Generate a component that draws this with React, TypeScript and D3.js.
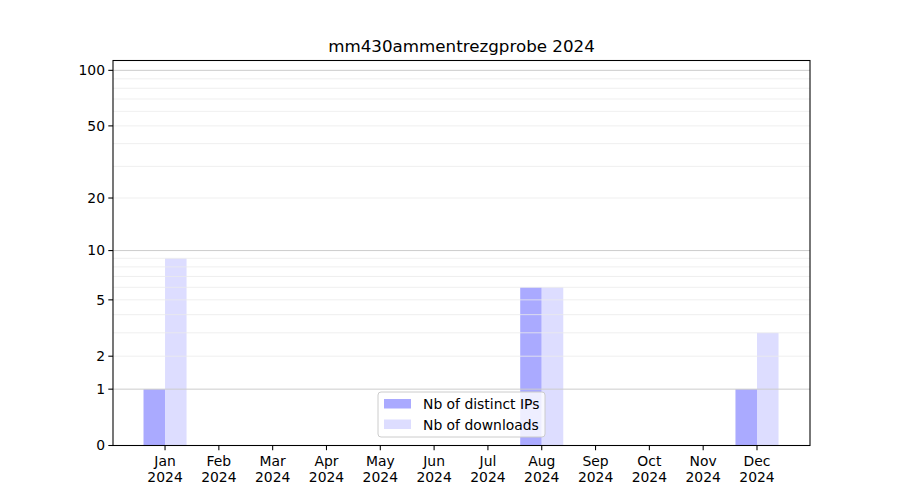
import * as d3 from 'd3';
import React from 'react';

const months = ['Jan', 'Feb', 'Mar', 'Apr', 'May', 'Jun', 'Jul', 'Aug', 'Sep', 'Oct', 'Nov', 'Dec'];
const year = '2024';
const distinctIps = [1, 0, 0, 0, 0, 0, 0, 6, 0, 0, 0, 1];
const downloads = [9, 0, 0, 0, 0, 0, 0, 6, 0, 0, 0, 3];
const yTicks = [0, 1, 2, 5, 10, 20, 50, 100];
const majorGrid = [1, 10, 100];
const minorGrid = [2, 3, 4, 5, 6, 7, 8, 9, 20, 30, 40, 50, 60, 70, 80, 90];

const W = 900;
const H = 500;
const left = 113;
const right = 810;
const top = 60.5;
const bottom = 445.5;
const font = 'DejaVu Sans, sans-serif';
const fs = 13.9;

export default function App() {
  const x = d3.scaleLinear().domain([-0.967, 11.985]).range([left, right]);
  const y = d3.scaleSymlog().constant(1).domain([0, 113]).range([bottom, top]);
  const bw = x(0.4) - x(0);

  return (
    <svg width={W} height={H} style={{ position: 'absolute', left: 0, top: 0 }} fontFamily={font}>
      <rect width={W} height={H} fill="#fff" />
      {distinctIps.map((v, i) =>
        v > 0 ? (
          <rect key={'a' + i} x={x(i) - bw} y={y(v)} width={bw} height={bottom - y(v)} fill="#aaaaff" />
        ) : null,
      )}
      {downloads.map((v, i) =>
        v > 0 ? (
          <rect key={'b' + i} x={x(i)} y={y(v)} width={bw} height={bottom - y(v)} fill="#ddddff" />
        ) : null,
      )}
      {minorGrid.map((v) => (
        <line key={'m' + v} x1={left} x2={right} y1={y(v)} y2={y(v)} stroke="#ebebeb" strokeWidth={0.8} />
      ))}
      {majorGrid.map((v) => (
        <line key={'g' + v} x1={left} x2={right} y1={y(v)} y2={y(v)} stroke="#cccccc" strokeWidth={1} />
      ))}
      <rect x={left} y={top} width={right - left} height={bottom - top} fill="none" stroke="#000" strokeWidth={1.07} />
      {yTicks.map((v) => (
        <g key={'y' + v} transform={`translate(0,${y(v)})`}>
          <line x1={left - 4.7} x2={left} stroke="#000" strokeWidth={1.07} />
          <text x={left - 8} dy="0.34em" textAnchor="end" fontSize={fs} fill="#000">
            {v}
          </text>
        </g>
      ))}
      {months.map((m, i) => (
        <g key={m} transform={`translate(${x(i)},${bottom})`}>
          <line y1={0} y2={4.7} stroke="#000" strokeWidth={1.07} />
          <text y={20.5} textAnchor="middle" fontSize={fs} fill="#000">
            {m}
          </text>
          <text y={36} textAnchor="middle" fontSize={fs} fill="#000">
            {year}
          </text>
        </g>
      ))}
      <text x={(left + right) / 2} y={52} textAnchor="middle" fontSize={16.7} fill="#000">
        mm430ammentrezgprobe {year}
      </text>
      <g transform="translate(378,392)">
        <rect width={167} height={45} rx={3} fill="#fff" fillOpacity={0.8} stroke="#cccccc" strokeWidth={1} />
        <rect x={6} y={7} width={27} height={9.5} fill="#aaaaff" />
        <text x={45} y={17} fontSize={fs} fill="#000">
          Nb of distinct IPs
        </text>
        <rect x={6} y={27.5} width={27} height={9.5} fill="#ddddff" />
        <text x={45} y={37.5} fontSize={fs} fill="#000">
          Nb of downloads
        </text>
      </g>
    </svg>
  );
}
